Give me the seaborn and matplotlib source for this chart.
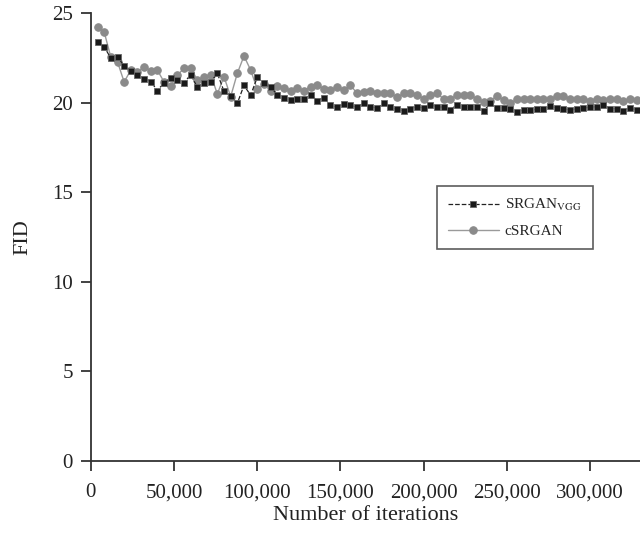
import matplotlib
matplotlib.use("Agg")
import matplotlib.pyplot as plt
import seaborn as sns
import numpy as np
import pandas as pd
from matplotlib.ticker import FuncFormatter

iterations = [4000 * (i + 1) for i in range(82)]

csrgan = [24.2, 23.94, 22.53, 22.27, 21.15, 21.82, 21.71, 22.0, 21.78, 21.8,
          21.15, 20.93, 21.52, 21.93, 21.93, 21.26, 21.41, 21.56, 20.48, 21.45,
          20.33, 21.63, 22.6, 21.82, 20.74, 21.04, 20.63,
          20.93, 20.81, 20.63, 20.81, 20.67, 20.89, 20.96, 20.78, 20.70, 20.85,
          20.70, 20.96, 20.52, 20.59, 20.67, 20.52, 20.55, 20.55, 20.29, 20.52,
          20.52, 20.44, 20.22, 20.44, 20.55, 20.18, 20.18, 20.44, 20.41,
          20.41, 20.22, 20.03, 20.11, 20.37, 20.14, 19.96, 20.18, 20.22, 20.22,
          20.22, 20.22, 20.18, 20.37, 20.37, 20.22, 20.22, 20.22, 20.11, 20.22,
          20.14, 20.18, 20.18, 20.07, 20.18, 20.14]

srgan_vgg = [23.38, 23.12, 22.47, 22.56, 22.04, 21.78, 21.52, 21.34, 21.17, 20.67,
             21.11, 21.37, 21.26, 21.11, 21.56, 20.85, 21.11, 21.15, 21.63, 20.63,
             20.37, 19.96, 20.96, 20.41, 21.41, 21.08, 20.87,
             20.44, 20.27, 20.15, 20.22, 20.18, 20.44, 20.11, 20.26, 19.85, 19.74,
             19.92, 19.85, 19.74, 19.96, 19.77, 19.70, 19.96, 19.74, 19.62, 19.55,
             19.66, 19.77, 19.70, 19.88, 19.77, 19.74, 19.59, 19.88, 19.74,
             19.77, 19.77, 19.51, 19.96, 19.70, 19.70, 19.62, 19.48, 19.59, 19.59,
             19.62, 19.62, 19.81, 19.70, 19.66, 19.59, 19.66, 19.70, 19.74, 19.77,
             19.85, 19.66, 19.66, 19.55, 19.70, 19.59]

x_ticks = [0, 50000, 100000, 150000, 200000, 250000, 300000]
y_ticks = [0, 5, 10, 15, 20, 25]

sns.set_style("ticks")
plt.rcParams['font.family'] = ['Liberation Serif', 'DejaVu Serif']
plt.rcParams['mathtext.fontset'] = 'stix'

fig = plt.figure(figsize=(6.4, 5.34), dpi=100)
ax = fig.add_axes([0.142, 0.1367, 0.858, 0.839])

sns.lineplot(x=iterations, y=csrgan, ax=ax, color="#9a9a9a", linewidth=1.0,
             marker="o", markersize=5.4, markerfacecolor="#8a8a8a",
             markeredgecolor="#8a8a8a", label="cSRGAN", zorder=2)
sns.lineplot(x=iterations, y=srgan_vgg, ax=ax, color="#222222", linewidth=0.9,
             linestyle="--", marker="s", markersize=4.8, markerfacecolor="#1a1a1a",
             markeredgecolor="#666666", markeredgewidth=0.6,
             label=r"SRGAN$_{\mathrm{VGG}}$", zorder=3)

ax.set_xlim(0, 330000)
ax.set_ylim(0, 25)
ax.set_xticks(x_ticks)
ax.set_yticks(y_ticks)
ax.xaxis.set_major_formatter(FuncFormatter(lambda v, p: "0" if v == 0 else f"{int(v):,}"))
ax.tick_params(axis="both", labelsize=15, direction="out", width=1.2, colors="#222222")
ax.tick_params(axis="x", length=7, pad=9)
ax.tick_params(axis="y", length=7, pad=6)
for lab in ax.get_xticklabels() + ax.get_yticklabels():
    lab.set_color("#222222")

sns.despine(ax=ax)
for s in ["left", "bottom"]:
    ax.spines[s].set_linewidth(1.3)
    ax.spines[s].set_color("#333333")

ax.set_xlabel("Number of iterations", fontsize=16, color="#222222", labelpad=3)
ax.set_ylabel("FID", fontsize=16, color="#222222", labelpad=14)

handles, labels = ax.get_legend_handles_labels()
leg = ax.legend(handles[::-1], labels[::-1], loc="upper left",
                bbox_to_anchor=(0.630, 0.614), fontsize=11, frameon=True,
                fancybox=False, edgecolor="#333333", handlelength=3.3,
                borderpad=0.75, labelspacing=0.7, handletextpad=0.4,
                borderaxespad=0.0)
leg.get_frame().set_linewidth(1.2)

fig.savefig("out.png", dpi=100)
